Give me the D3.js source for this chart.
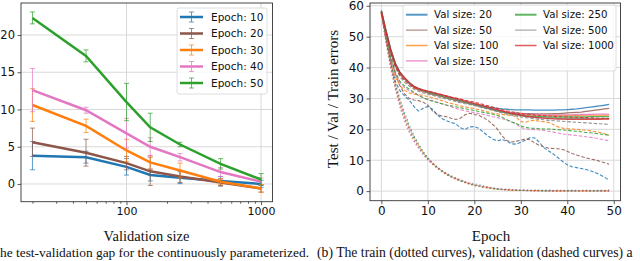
<!DOCTYPE html>
<html>
<head>
<meta charset="utf-8">
<script src="https://cdn.jsdelivr.net/npm/d3@7"></script>
<style>
    body { margin: 0; background: #fff; }
    svg { display: block; }
    text { font-family: "DejaVu Sans", sans-serif; fill: #111; }
    .serif { font-family: "Liberation Serif", "Times New Roman", serif; }
</style>
</head>
<body>
<svg id="chart" width="640" height="261"></svg>
<script>
// ---- left panel: gap vs validation size ----
let valSizes = [20, 50, 100, 150, 250, 500, 1000];
let gapLabels = ["Epoch: 10", "Epoch: 20", "Epoch: 30", "Epoch: 40", "Epoch: 50"];
let gapMean = [
    [3.8, 3.6, 2.3, 1.2, 0.85, 0.4, 0.0],
    [5.6, 4.2, 2.8, 1.7, 1.0, 0.2, -0.6],
    [10.6, 7.8, 4.5, 2.9, 1.8, 0.3, -0.6],
    [12.6, 9.9, 6.8, 5.0, 3.6, 1.6, 0.3],
    [22.3, 17.2, 11.0, 7.6, 5.3, 2.7, 0.6]
];
let gapErr = [
    [1.9, 0.8, 1.1, 0.8, 0.8, 0.6, 0.5],
    [1.9, 1.8, 0.9, 1.9, 0.8, 0.5, 0.5],
    [2.2, 0.9, 1.5, 0.9, 1.0, 0.4, 0.5],
    [2.9, 0.4, 2.0, 1.2, 0.5, 0.6, 0.5],
    [0.8, 0.8, 2.5, 1.9, 0.3, 0.7, 0.8]
];
let gapColors = ["#1f77b4", "#8c564b", "#ff7f0e", "#e377c2", "#2ca02c"];
let leftYTicks = [0, 5, 10, 15, 20];
let leftXTicks = [100, 1000];
let leftMinor = [20, 30, 40, 50, 60, 70, 80, 90, 200, 300, 400, 500, 600, 700, 800, 900];

// ---- right panel: errors per epoch ----
let sizeLabels = ["Val size: 20", "Val size: 50", "Val size: 100", "Val size: 150", "Val size: 250", "Val size: 500", "Val size: 1000"];
let sizeColors = ["#1f77b4", "#8c564b", "#ff7f0e", "#e377c2", "#2ca02c", "#7f7f7f", "#d62728"];
let sizeWidths = [2.0, 1.1, 1.5, 1.5, 2.0, 1.1, 1.5];

let testErr = [
    [58.5, 52, 46, 41.5, 38.5, 36.6, 35, 33.6, 32.8, 32.3, 31.8, 31.3, 31, 30.6, 30.2, 29.8, 29.4, 29, 28.7, 28.4, 28.1, 27.8, 27.5, 27.2, 27, 26.8, 26.6, 26.5, 26.4, 26.3, 26.3, 26.3, 26.3, 26.2, 26.2, 26.2, 26.2, 26.2, 26.3, 26.3, 26.4, 26.5, 26.6, 26.8, 27, 27.2, 27.4, 27.6, 27.8, 28.1],
    [58, 51.5, 45.5, 41, 38.2, 36.5, 35, 33.7, 33, 32.5, 32, 31.5, 31.1, 30.7, 30.3, 29.9, 29.5, 29.1, 28.7, 28.3, 28, 27.6, 27.2, 26.9, 26.5, 26.2, 25.9, 25.6, 25.4, 25.3, 25.2, 25.1, 25.1, 25, 25, 25, 25, 25.1, 25.1, 25.2, 25.3, 25.4, 25.5, 25.6, 25.8, 26, 26.2, 26.4, 26.6, 26.8],
    [57.5, 51, 45, 40.5, 37.8, 36.2, 34.8, 33.5, 32.8, 32.3, 31.9, 31.5, 31.1, 30.7, 30.3, 29.9, 29.5, 29.1, 28.7, 28.3, 27.9, 27.5, 27.1, 26.7, 26.3, 26, 25.7, 25.4, 25.2, 25, 24.9, 24.8, 24.7, 24.6, 24.6, 24.5, 24.5, 24.5, 24.5, 24.5, 24.5, 24.5, 24.5, 24.5, 24.6, 24.6, 24.6, 24.6, 24.6, 24.6],
    [57.8, 51.2, 45.2, 40.8, 38, 36.3, 34.9, 33.6, 32.9, 32.4, 32, 31.6, 31.2, 30.8, 30.4, 30, 29.6, 29.2, 28.8, 28.4, 28, 27.6, 27.2, 26.8, 26.4, 26.1, 25.8, 25.5, 25.3, 25.1, 25, 24.9, 24.8, 24.8, 24.7, 24.7, 24.7, 24.7, 24.7, 24.7, 24.7, 24.7, 24.8, 24.8, 24.8, 24.8, 24.9, 24.9, 24.9, 24.9],
    [58.3, 51.6, 45.6, 41, 38.2, 36.5, 35, 33.8, 33, 32.5, 32, 31.6, 31.2, 30.8, 30.4, 30, 29.6, 29.2, 28.8, 28.4, 28, 27.6, 27.2, 26.8, 26.4, 26, 25.6, 25.3, 25, 24.8, 24.6, 24.4, 24.3, 24.2, 24.1, 24.1, 24, 24, 24, 24, 24, 24, 24, 24, 24, 24.1, 24.1, 24.1, 24.1, 24.1],
    [58, 51.4, 45.4, 40.9, 38.1, 36.4, 35, 33.8, 33.1, 32.6, 32.1, 31.7, 31.3, 30.9, 30.5, 30.1, 29.7, 29.3, 28.9, 28.5, 28.1, 27.7, 27.3, 26.9, 26.5, 26.1, 25.7, 25.3, 25, 24.7, 24.4, 24.2, 24, 23.9, 23.8, 23.7, 23.6, 23.6, 23.5, 23.5, 23.5, 23.5, 23.5, 23.5, 23.5, 23.5, 23.5, 23.5, 23.5, 23.5],
    [58.2, 51.8, 45.8, 41.2, 38.4, 36.7, 35.2, 34, 33.3, 32.8, 32.4, 32, 31.6, 31.2, 30.8, 30.4, 30, 29.6, 29.2, 28.8, 28.4, 28, 27.6, 27.2, 26.8, 26.4, 26, 25.6, 25.2, 24.9, 24.6, 24.3, 24.1, 23.9, 23.7, 23.6, 23.5, 23.4, 23.3, 23.3, 23.2, 23.2, 23.2, 23.2, 23.2, 23.2, 23.2, 23.2, 23.3, 23.3]
];
let valErr = [
    [58, 50, 42, 35.5, 32.5, 30.8, 29.4, 27.4, 25.9, 26.8, 27.4, 26.5, 24.8, 23.5, 22.8, 22.2, 21.8, 20.5, 20, 20.8, 20.9, 20.3, 19, 17.8, 16.8, 16.3, 16.7, 16.2, 15.3, 15.2, 15.8, 16.5, 17.3, 17.2, 15.8, 14, 13, 12, 10.8, 9.6, 8.5, 7.9, 7.6, 7.3, 7, 6.6, 6, 5.3, 4.5, 3.6],
    [58, 51, 44, 38, 34, 31.5, 30, 29.5, 29.3, 28.8, 27.8, 26, 24.8, 24.3, 24.1, 23.6, 23.2, 23.6, 24.7, 25.2, 24.8, 24.5, 23.8, 22.8, 21.5, 20, 17.8, 16.4, 15.9, 16.1, 16.5, 16.9, 16.6, 15.6, 14.8, 14.3, 13.9, 13.8, 13.7, 13.5, 12.9, 12.2, 11.7, 11.2, 10.8, 10.4, 10.1, 9.7, 9.2, 8.7],
    [57, 49, 42, 37, 34.2, 32.6, 31.8, 31.4, 31.2, 31, 30.6, 30.2, 29.8, 29.3, 28.8, 28.4, 28, 27.6, 27.3, 27, 26.7, 26.4, 26, 25.6, 25.2, 25, 24.8, 24.6, 24.6, 24, 22.5, 22.3, 22.8, 22.9, 22.6, 22.5, 22.2, 21.6, 20.8, 20.4, 20.2, 20.1, 20, 19.8, 19.8, 19.5, 19.3, 19, 18.6, 18.1],
    [57, 49, 42.5, 38, 35, 33.5, 32.5, 31.8, 31, 30.3, 29.8, 29.3, 28.8, 28.3, 27.8, 27.3, 26.8, 26.4, 26, 25.7, 25.4, 25.1, 24.8, 24.5, 24.1, 23.8, 23.4, 23, 22.5, 21.8, 20.6, 20.2, 20, 19.9, 19.8, 19.6, 19.4, 19.1, 18.8, 18.5, 18.3, 18.2, 18, 17.8, 17.6, 17.4, 17.2, 16.9, 16.6, 16.3],
    [57.5, 50, 43, 38.5, 35.5, 34, 33, 32, 31, 30.2, 29.6, 29.1, 28.7, 28.3, 27.9, 27.6, 27.3, 27, 26.7, 26.4, 26.1, 25.8, 25.5, 25.2, 24.9, 24.5, 23.9, 23.1, 22.4, 21.9, 21.1, 20.7, 20.4, 20.3, 20.2, 20.1, 20.1, 20, 19.9, 19.8, 19.7, 19.5, 19.4, 19.2, 19, 18.9, 18.7, 18.5, 18.3, 18.1],
    [58, 51, 44.5, 40, 37, 35.2, 34, 33, 32.3, 31.8, 31.4, 31, 30.6, 30.2, 29.8, 29.4, 29, 28.6, 28.3, 28, 27.7, 27.3, 26.9, 26.5, 26.1, 25.7, 25.3, 24.9, 24.6, 24.3, 24, 23.8, 23.6, 23.4, 23.2, 23.1, 22.9, 22.8, 22.7, 22.6, 22.5, 22.4, 22.3, 22.2, 22.1, 22, 21.9, 21.8, 21.7, 21.6],
    [58, 51.5, 45, 40.5, 37.5, 35.8, 34.5, 33.5, 33, 32.6, 32.3, 32, 31.6, 31.2, 30.8, 30.4, 30.1, 29.8, 29.4, 29.1, 28.8, 28.4, 28, 27.6, 27.2, 26.8, 26.4, 26, 25.7, 25.4, 25.1, 24.9, 24.8, 24.6, 24.5, 24.4, 24.3, 24.2, 24.1, 24.1, 24, 23.9, 23.9, 23.8, 23.8, 23.7, 23.7, 23.6, 23.6, 23.5]
];
let trainErr = [
    [58.2, 49.5, 41.5, 35, 30, 25.5, 21.5, 18, 15.3, 12.8, 10.8, 9.2, 7.9, 6.8, 5.8, 5, 4.3, 3.7, 3.1, 2.7, 2.4, 2.1, 1.7, 1.4, 1.1, 0.9, 0.7, 0.6, 0.5, 0.4, 0.35, 0.5, 0.3, 0.4, 0.3, 0.25, 0.4, 0.2, 0.3, 0.2, 0.25, 0.35, 0.2, 0.2, 0.3, 0.2, 0.2, 0.25, 0.2, 0.45],
    [57.8, 48, 39.8, 33, 27.2, 22.6, 19, 16.2, 13.8, 11.8, 10.1, 8.7, 7.4, 6.3, 5.3, 4.5, 3.8, 3.2, 2.7, 2.2, 1.8, 1.5, 1.2, 1, 0.8, 0.6, 0.5, 0.4, 0.3, 0.25, 0.2, 0.2, 0.15, 0.15, 0.1, 0.1, 0.1, 0.1, 0.1, 0.1, 0.05, 0.05, 0.05, 0.05, 0.05, 0.05, 0.05, 0.05, 0.05, 0.05],
    [57.5, 49, 41.2, 34.5, 29, 24.5, 20.6, 17.4, 14.8, 12.5, 10.6, 9, 7.7, 6.6, 5.6, 4.8, 4.1, 3.5, 3, 2.5, 2.1, 1.8, 1.5, 1.2, 0.9, 0.7, 0.55, 0.45, 0.35, 0.3, 0.25, 0.2, 0.2, 0.15, 0.15, 0.1, 0.1, 0.1, 0.1, 0.1, 0.1, 0.05, 0.05, 0.05, 0.05, 0.05, 0.05, 0.05, 0.05, 0.05],
    [57.6, 48.2, 40, 33.2, 27.6, 23, 19.3, 16.4, 14, 11.9, 10.2, 8.8, 7.6, 6.5, 5.5, 4.7, 4, 3.4, 2.9, 2.4, 2, 1.7, 1.4, 1.1, 0.9, 0.7, 0.55, 0.45, 0.35, 0.3, 0.25, 0.2, 0.2, 0.15, 0.15, 0.1, 0.1, 0.1, 0.1, 0.1, 0.1, 0.05, 0.05, 0.05, 0.05, 0.05, 0.05, 0.05, 0.05, 0.05],
    [57.9, 49.3, 41.5, 34.8, 29.2, 24.8, 20.9, 17.7, 15, 12.7, 10.7, 9.1, 7.7, 6.5, 5.5, 4.7, 4, 3.4, 2.8, 2.3, 1.9, 1.6, 1.3, 1, 0.8, 0.6, 0.5, 0.4, 0.3, 0.25, 0.2, 0.2, 0.15, 0.15, 0.1, 0.1, 0.1, 0.1, 0.1, 0.1, 0.05, 0.05, 0.05, 0.05, 0.05, 0.05, 0.05, 0.05, 0.05, 0.05],
    [58, 48.6, 40.5, 33.8, 28.2, 23.6, 19.8, 16.8, 14.3, 12.1, 10.3, 8.8, 7.5, 6.4, 5.4, 4.6, 3.9, 3.3, 2.8, 2.3, 1.9, 1.6, 1.3, 1.1, 0.9, 0.7, 0.55, 0.45, 0.35, 0.3, 0.25, 0.2, 0.2, 0.15, 0.15, 0.1, 0.1, 0.1, 0.1, 0.1, 0.1, 0.05, 0.05, 0.05, 0.05, 0.05, 0.05, 0.05, 0.05, 0.05],
    [58.1, 49, 41, 34.2, 28.6, 24, 20.2, 17.1, 14.6, 12.4, 10.5, 9, 7.7, 6.6, 5.6, 4.8, 4.1, 3.5, 2.9, 2.4, 2, 1.7, 1.4, 1.1, 0.9, 0.7, 0.55, 0.45, 0.35, 0.3, 0.25, 0.2, 0.2, 0.15, 0.15, 0.1, 0.1, 0.1, 0.1, 0.1, 0.1, 0.05, 0.05, 0.05, 0.05, 0.05, 0.05, 0.05, 0.05, 0.05]
];
let rightXTicks = [0, 10, 20, 30, 40, 50];
let rightYTicks = [0, 10, 20, 30, 40, 50, 60];

let captionLeft = "he test-validation gap for the continuously parameterized.";
let captionRight = "(b) The train (dotted curves), validation (dashed curves) a";

let svg = d3.select("#chart");

drawLeft();
drawRight();

// cropped caption line under the two panels
svg.append("text")
    .attr("class", "serif")
    .attr("x", 0).attr("y", 257)
    .style("font-size", "13.4px")
    .text(captionLeft);
svg.append("text")
    .attr("class", "serif")
    .attr("x", 317).attr("y", 257)
    .style("font-size", "13.7px")
    .text(captionRight);

function drawLeft() {
    let x = d3.scaleLog().domain([16.44, 1216]).range([21, 272.5]);
    let y = d3.scaleLinear().domain([-2.38, 24.3]).range([201.7, 3]);
    let g = svg.append("g");

    // Grid
    g.selectAll(".gx").data(leftXTicks).join("line")
        .attr("x1", d => x(d)).attr("x2", d => x(d))
        .attr("y1", 3).attr("y2", 201.7)
        .attr("stroke", "#d9d9d9").attr("stroke-width", 1);
    g.selectAll(".gy").data(leftYTicks).join("line")
        .attr("x1", 21).attr("x2", 272.5)
        .attr("y1", d => y(d)).attr("y2", d => y(d))
        .attr("stroke", "#d9d9d9").attr("stroke-width", 1);

    // Axes
    g.append("g")
        .attr("class", "xax")
        .attr("transform", "translate(0,201.7)")
        .call(d3.axisBottom(x).tickValues(leftXTicks).tickFormat(d3.format("d")).tickSize(3.5).tickPadding(2.5));
    g.append("g")
        .attr("transform", "translate(0,201.7)")
        .call(d3.axisBottom(x).tickValues(leftMinor).tickFormat("").tickSize(2));
    g.append("g")
        .attr("class", "yax")
        .attr("transform", "translate(21,0)")
        .call(d3.axisLeft(y).tickValues(leftYTicks).tickSize(3.5).tickPadding(2.5));
    g.selectAll(".domain").remove();
    g.selectAll(".tick line").attr("stroke", "#333").attr("stroke-width", 0.8);
    g.selectAll(".xax .tick text").style("font-size", "11px").attr("fill", "#111");
    g.selectAll(".yax .tick text").style("font-size", "11.5px").attr("fill", "#111");

    // Series
    let line = d3.line().x(d => x(d[0])).y(d => y(d[1]));
    gapMean.forEach((means, i) => {
        let pts = valSizes.map((v, j) => [v, means[j], gapErr[i][j]]);
        let s = g.append("g");
        s.selectAll(".eb").data(pts).join("line")
            .attr("x1", d => x(d[0])).attr("x2", d => x(d[0]))
            .attr("y1", d => y(d[1] - d[2])).attr("y2", d => y(d[1] + d[2]))
            .attr("stroke", gapColors[i]).attr("stroke-width", 1).attr("opacity", 0.7);
        [-1, 1].forEach(sgn => {
            s.selectAll(".cap" + sgn).data(pts).join("line")
                .attr("x1", d => x(d[0]) - 2.5).attr("x2", d => x(d[0]) + 2.5)
                .attr("y1", d => y(d[1] + sgn * d[2])).attr("y2", d => y(d[1] + sgn * d[2]))
                .attr("stroke", gapColors[i]).attr("stroke-width", 1).attr("opacity", 0.7);
        });
        s.append("path")
            .attr("d", line(pts))
            .attr("fill", "none")
            .attr("stroke", gapColors[i])
            .attr("stroke-width", 2.5);
    });

    // Frame
    g.append("rect")
        .attr("x", 21).attr("y", 3).attr("width", 251.5).attr("height", 198.7)
        .attr("fill", "none").attr("stroke", "#333").attr("stroke-width", 0.9);

    // Legend
    let lg = g.append("g");
    lg.append("rect")
        .attr("x", 177).attr("y", 8).attr("width", 90).attr("height", 86).attr("rx", 2)
        .attr("fill", "#fff").attr("fill-opacity", 0.8)
        .attr("stroke", "#d5d5d5").attr("stroke-width", 0.8);
    gapLabels.forEach((lab, i) => {
        let cy = 17 + i * 16.5;
        lg.append("line").attr("x1", 180).attr("x2", 203).attr("y1", cy).attr("y2", cy)
            .attr("stroke", gapColors[i]).attr("stroke-width", 2.5);
        lg.append("line").attr("x1", 191.5).attr("x2", 191.5).attr("y1", cy - 5).attr("y2", cy + 5)
            .attr("stroke", gapColors[i]).attr("stroke-width", 1).attr("opacity", 0.7);
        [-5, 5].forEach(o => {
            lg.append("line").attr("x1", 189).attr("x2", 194).attr("y1", cy + o).attr("y2", cy + o)
                .attr("stroke", gapColors[i]).attr("stroke-width", 1).attr("opacity", 0.7);
        });
        lg.append("text").attr("x", 211).attr("y", cy + 3.8)
            .style("font-size", "10.5px").text(lab);
    });

    g.append("text")
        .attr("class", "serif")
        .attr("x", 146.5).attr("y", 240.5)
        .attr("text-anchor", "middle")
        .style("font-size", "14.5px")
        .text("Validation size");
}

function drawRight() {
    let x = d3.scaleLinear().domain([-2.45, 51.45]).range([370, 620.5]);
    let y = d3.scaleLinear().domain([-3.1, 60.9]).range([200.7, 3]);
    let g = svg.append("g");

    g.selectAll(".gx").data(rightXTicks).join("line")
        .attr("x1", d => x(d)).attr("x2", d => x(d))
        .attr("y1", 3).attr("y2", 200.7)
        .attr("stroke", "#d9d9d9").attr("stroke-width", 1);
    g.selectAll(".gy").data(rightYTicks).join("line")
        .attr("x1", 370).attr("x2", 620.5)
        .attr("y1", d => y(d)).attr("y2", d => y(d))
        .attr("stroke", "#d9d9d9").attr("stroke-width", 1);

    g.append("g")
        .attr("transform", "translate(0,200.7)")
        .call(d3.axisBottom(x).tickValues(rightXTicks).tickSize(3.5).tickPadding(2.5));
    g.append("g")
        .attr("transform", "translate(370,0)")
        .call(d3.axisLeft(y).tickValues(rightYTicks).tickSize(3.5).tickPadding(2.5));
    g.selectAll(".domain").remove();
    g.selectAll(".tick line").attr("stroke", "#333").attr("stroke-width", 0.8);
    g.selectAll(".tick text").style("font-size", "12px").attr("fill", "#111");

    let line = d3.line().x((d, i) => x(i)).y(d => y(d));
    sizeColors.forEach((c, i) => {
        g.append("path").attr("d", line(testErr[i]))
            .attr("fill", "none").attr("stroke", c).attr("stroke-width", 1.3).attr("opacity", 0.8);
        g.append("path").attr("d", line(valErr[i]))
            .attr("fill", "none").attr("stroke", c).attr("stroke-width", 1.1).attr("opacity", 0.85)
            .attr("stroke-dasharray", "3.5,1.8");
        g.append("path").attr("d", line(trainErr[i]))
            .attr("fill", "none").attr("stroke", c).attr("stroke-width", 1.2).attr("opacity", 0.7)
            .attr("stroke-dasharray", "1.1,2.6");
    });

    g.append("rect")
        .attr("x", 370).attr("y", 3).attr("width", 250.5).attr("height", 197.7)
        .attr("fill", "none").attr("stroke", "#333").attr("stroke-width", 0.9);

    let lg = g.append("g");
    lg.append("rect")
        .attr("x", 403).attr("y", 5).attr("width", 213).attr("height", 66).attr("rx", 2)
        .attr("fill", "#fff").attr("fill-opacity", 0.8)
        .attr("stroke", "#d5d5d5").attr("stroke-width", 0.8);
    sizeLabels.forEach((lab, i) => {
        let col = i < 4 ? 0 : 1;
        let row = i < 4 ? i : i - 4;
        let hx = col === 0 ? 406 : 515;
        let cy = 14.7 + row * 15.4;
        lg.append("line").attr("x1", hx).attr("x2", hx + 21.5).attr("y1", cy).attr("y2", cy)
            .attr("stroke", sizeColors[i]).attr("stroke-width", sizeWidths[i]).attr("opacity", 0.75);
        lg.append("text").attr("x", hx + 28).attr("y", cy + 3.6)
            .style("font-size", "10.2px").text(lab);
    });

    g.append("text")
        .attr("class", "serif")
        .attr("x", 491).attr("y", 240.5)
        .attr("text-anchor", "middle")
        .style("font-size", "15px")
        .text("Epoch");
    g.append("text")
        .attr("class", "serif")
        .attr("transform", "translate(338,99) rotate(-90)")
        .attr("text-anchor", "middle")
        .style("font-size", "15px")
        .text("Test / Val / Train errors");
}
</script>
</body>
</html>
